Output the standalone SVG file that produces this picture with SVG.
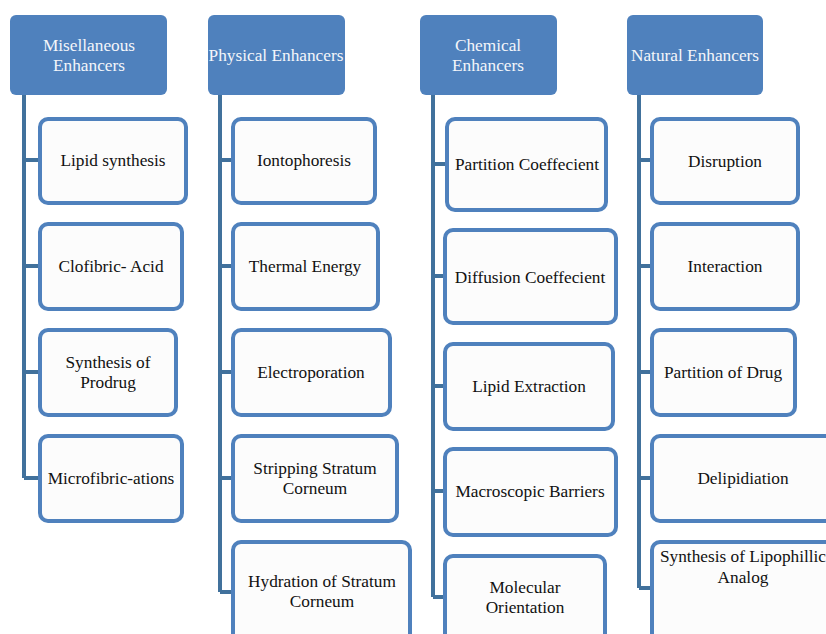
<svg xmlns="http://www.w3.org/2000/svg" width="826" height="634" viewBox="0 0 826 634">
<style>
.hdr{fill:#4f81bd}
.hdr-t{fill:#f4f6fa;font-family:'Liberation Serif','Times New Roman',serif;font-size:17.3px;text-anchor:middle}
.box{fill:#fcfcfc;stroke:#4f81bd;stroke-width:4}
.box-t{fill:#111;font-family:'Liberation Serif','Times New Roman',serif;font-size:17.3px;text-anchor:middle}
.conn{fill:none;stroke:#41719c;stroke-width:4}
</style>
<rect width="826" height="634" fill="#ffffff"/>
<g id="connectors">
<path class="conn" d="M24 95 V478 M24 160 H40 M24 266 H40 M24 372 H40 M24 478 H40"/>
<path class="conn" d="M220 95 V592 M220 160 H233 M220 266 H233 M220 372 H233 M220 478 H233 M220 592 H233"/>
<path class="conn" d="M433 95 V597 M433 164 H447 M433 276 H445 M433 386 H445 M433 491 H445 M433 597 H445"/>
<path class="conn" d="M639 95 V588 M639 160 H652 M639 266 H652 M639 372 H652 M639 478 H652 M639 588 H652"/>
</g>
<g id="h-misc"><rect class="hdr" x="10" y="15" width="157" height="80" rx="6"/><text class="hdr-t" x="89" y="51">Misellaneous</text><text class="hdr-t" x="89" y="71">Enhancers</text></g>
<g id="h-phys"><rect class="hdr" x="208" y="15" width="137" height="80" rx="6"/><text class="hdr-t" x="276" y="61">Physical Enhancers</text></g>
<g id="h-chem"><rect class="hdr" x="420" y="15" width="137" height="80" rx="6"/><text class="hdr-t" x="488" y="51">Chemical</text><text class="hdr-t" x="488" y="71">Enhancers</text></g>
<g id="h-nat"><rect class="hdr" x="627" y="15" width="136" height="80" rx="6"/><text class="hdr-t" x="695" y="61">Natural Enhancers</text></g>

<g id="n-lipid-synthesis"><rect class="box" x="40" y="119" width="146" height="84" rx="8"/><text class="box-t" x="113" y="166">Lipid synthesis</text></g>
<g id="n-clofibric"><rect class="box" x="40" y="224" width="142" height="85" rx="8"/><text class="box-t" x="111" y="272">Clofibric- Acid</text></g>
<g id="n-prodrug"><rect class="box" x="40" y="330" width="136" height="85" rx="8"/><text class="box-t" x="108" y="368">Synthesis of</text><text class="box-t" x="108" y="388">Prodrug</text></g>
<g id="n-microfib"><rect class="box" x="40" y="436" width="142" height="85" rx="8"/><text class="box-t" x="111" y="484">Microfibric-ations</text></g>

<g id="n-ionto"><rect class="box" x="233" y="119" width="142" height="84" rx="8"/><text class="box-t" x="304" y="166">Iontophoresis</text></g>
<g id="n-thermal"><rect class="box" x="233" y="224" width="145" height="85" rx="8"/><text class="box-t" x="305" y="272">Thermal Energy</text></g>
<g id="n-electro"><rect class="box" x="233" y="330" width="157" height="85" rx="8"/><text class="box-t" x="311" y="378">Electroporation</text></g>
<g id="n-stripping"><rect class="box" x="233" y="436" width="164" height="85" rx="8"/><text class="box-t" x="315" y="474">Stripping Stratum</text><text class="box-t" x="315" y="494">Corneum</text></g>
<g id="n-hydration"><rect class="box" x="233" y="542" width="177" height="100" rx="8"/><text class="box-t" x="322" y="587">Hydration of Stratum</text><text class="box-t" x="322" y="607">Corneum</text></g>

<g id="n-partition-coef"><rect class="box" x="447" y="119" width="159" height="91" rx="8"/><text class="box-t" x="527" y="170">Partition Coeffecient</text></g>
<g id="n-diffusion"><rect class="box" x="445" y="230" width="171" height="93" rx="8"/><text class="box-t" x="530" y="283">Diffusion Coeffecient</text></g>
<g id="n-lipid-extraction"><rect class="box" x="445" y="344" width="168" height="85" rx="8"/><text class="box-t" x="529" y="392">Lipid Extraction</text></g>
<g id="n-macroscopic"><rect class="box" x="445" y="449" width="171" height="86" rx="8"/><text class="box-t" x="530" y="497">Macroscopic Barriers</text></g>
<g id="n-molecular"><rect class="box" x="445" y="556" width="160" height="90" rx="8"/><text class="box-t" x="525" y="593">Molecular</text><text class="box-t" x="525" y="613">Orientation</text></g>

<g id="n-disruption"><rect class="box" x="652" y="119" width="146" height="84" rx="8"/><text class="box-t" x="725" y="167">Disruption</text></g>
<g id="n-interaction"><rect class="box" x="652" y="224" width="146" height="85" rx="8"/><text class="box-t" x="725" y="272">Interaction</text></g>
<g id="n-partition-drug"><rect class="box" x="652" y="330" width="143" height="85" rx="8"/><text class="box-t" x="723" y="378">Partition of Drug</text></g>
<g id="n-delipid"><rect class="box" x="652" y="436" width="182" height="85" rx="8"/><text class="box-t" x="743" y="484">Delipidiation</text></g>
<g id="n-lipophillic"><rect class="box" x="652" y="542" width="182" height="100" rx="8"/><text class="box-t" x="743" y="562">Synthesis of Lipophillic</text><text class="box-t" x="743" y="583">Analog</text></g>
</svg>
